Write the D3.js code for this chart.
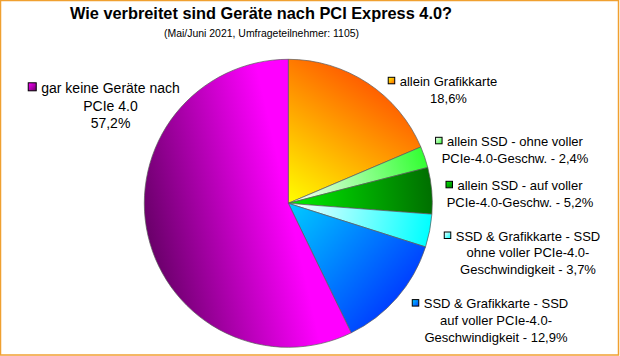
<!DOCTYPE html>
<html>
<head>
<meta charset="utf-8">
<script src="https://cdn.jsdelivr.net/npm/d3@7/dist/d3.min.js"></script>
<style>
  html, body { margin: 0; padding: 0; background: #fff; }
  svg { display: block; }
  text { font-family: "Liberation Sans", Arial, sans-serif; }
</style>
</head>
<body>
<svg id="chart" width="620" height="356"></svg>
<script>
// ---- data ----
const title = "Wie verbreitet sind Geräte nach PCI Express 4.0?";
const subtitle = "(Mai/Juni 2021, Umfrageteilnehmer: 1105)";
const categories = [
  "allein Grafikkarte",
  "allein SSD - ohne voller PCIe-4.0-Geschw.",
  "allein SSD - auf voller PCIe-4.0-Geschw.",
  "SSD & Grafikkarte - SSD ohne voller PCIe-4.0-Geschwindigkeit",
  "SSD & Grafikkarte - SSD auf voller PCIe-4.0-Geschwindigkeit",
  "gar keine Geräte nach PCIe 4.0"
];
const values = [18.6, 2.4, 5.2, 3.7, 12.9, 57.2];
const valueLabels = ["18,6%", "2,4%", "5,2%", "3,7%", "12,9%", "57,2%"];
const labelLines = [
  ["allein Grafikkarte", "18,6%"],
  ["allein SSD - ohne voller", "PCIe-4.0-Geschw. - 2,4%"],
  ["allein SSD - auf voller", "PCIe-4.0-Geschw. - 5,2%"],
  ["SSD & Grafikkarte - SSD", "ohne voller PCIe-4.0-", "Geschwindigkeit - 3,7%"],
  ["SSD & Grafikkarte - SSD", "auf voller PCIe-4.0-", "Geschwindigkeit - 12,9%"],
  ["gar keine Geräte nach", "PCIe 4.0", "57,2%"]
];

// ---- styles / layout ----
const innerColors = ["#ffff00", "#ffffff", "#00f000", "#ffffff", "#00ccff", "#ff00ff"];
const outerColors = ["#ff6000", "#33ff33", "#006f00", "#00ffff", "#0040ff", "#6a006a"];
const labelAnchors = [ // center x of text block, baseline of first line
  [448.5, 86], [515, 146], [520, 190], [528, 240.7], [496, 308.3], [110.5, 93]
];
const labelFont = [13, 13, 13, 13, 13, 14];
const labelLH = [16.7, 16.7, 16.7, 16.7, 16.7, 17.5];
const swatchSize = [6.5, 6.5, 6.5, 6.5, 6.5, 8];

const svg = d3.select("#chart");
const W = 620, H = 356;
const cx = 288.3, cy = 203.3, R = 144;

// border
svg.append("rect").attr("x", 0.5).attr("y", 0.5).attr("width", W - 2).attr("height", H - 1.5)
  .attr("fill", "#fff").attr("stroke", "#f0a030").attr("stroke-width", 1.5);

// titles
svg.append("text").attr("x", 261).attr("y", 19).attr("text-anchor", "middle")
  .attr("font-size", 17).attr("font-weight", "bold").attr("fill", "#000")
  .attr("textLength", 382).attr("lengthAdjust", "spacingAndGlyphs").text(title);
svg.append("text").attr("x", 261.5).attr("y", 36.5).attr("text-anchor", "middle")
  .attr("font-size", 11).attr("fill", "#000")
  .attr("textLength", 195).attr("lengthAdjust", "spacingAndGlyphs").text(subtitle);

const defs = svg.append("defs");
const pie = d3.pie().sort(null).value(d => d)(values);
const arc = d3.arc().innerRadius(0).outerRadius(R);

pie.forEach((p, i) => {
  const mid = (p.startAngle + p.endAngle) / 2;
  const g = defs.append("linearGradient").attr("id", "g" + i)
    .attr("gradientUnits", "userSpaceOnUse")
    .attr("x1", 0).attr("y1", 0)
    .attr("x2", R * Math.sin(mid)).attr("y2", -R * Math.cos(mid));
  g.append("stop").attr("offset", 0).attr("stop-color", innerColors[i]);
  g.append("stop").attr("offset", 1).attr("stop-color", outerColors[i]);
  const s = defs.append("linearGradient").attr("id", "s" + i)
    .attr("x1", 0).attr("y1", 0).attr("x2", 1).attr("y2", 1);
  s.append("stop").attr("offset", 0).attr("stop-color", innerColors[i]);
  s.append("stop").attr("offset", 1).attr("stop-color", outerColors[i]);
});

const gp = svg.append("g").attr("transform", `translate(${cx},${cy})`);
gp.selectAll("path").data(pie).join("path")
  .attr("d", arc)
  .attr("fill", (d, i) => `url(#g${i})`)
  .attr("stroke", "#5a5a5a").attr("stroke-width", 0.7);

// labels
labelLines.forEach((lines, i) => {
  const [ax, ay] = labelAnchors[i];
  const lg = svg.append("g");
  const sw = swatchSize[i];
  lines.forEach((ln, k) => {
    const t = lg.append("text").attr("x", ax).attr("y", ay + k * labelLH[i])
      .attr("text-anchor", "middle").attr("font-size", labelFont[i]).attr("fill", "#000").text(ln);
    if (k === 0) {
      const w = t.node().getComputedTextLength();
      lg.append("rect").attr("x", ax - w / 2 - sw - 5).attr("y", ay - sw - 2.2)
        .attr("width", sw).attr("height", sw)
        .attr("fill", `url(#s${i})`).attr("stroke", "#000").attr("stroke-width", 1);
    }
  });
});
</script>
</body>
</html>
